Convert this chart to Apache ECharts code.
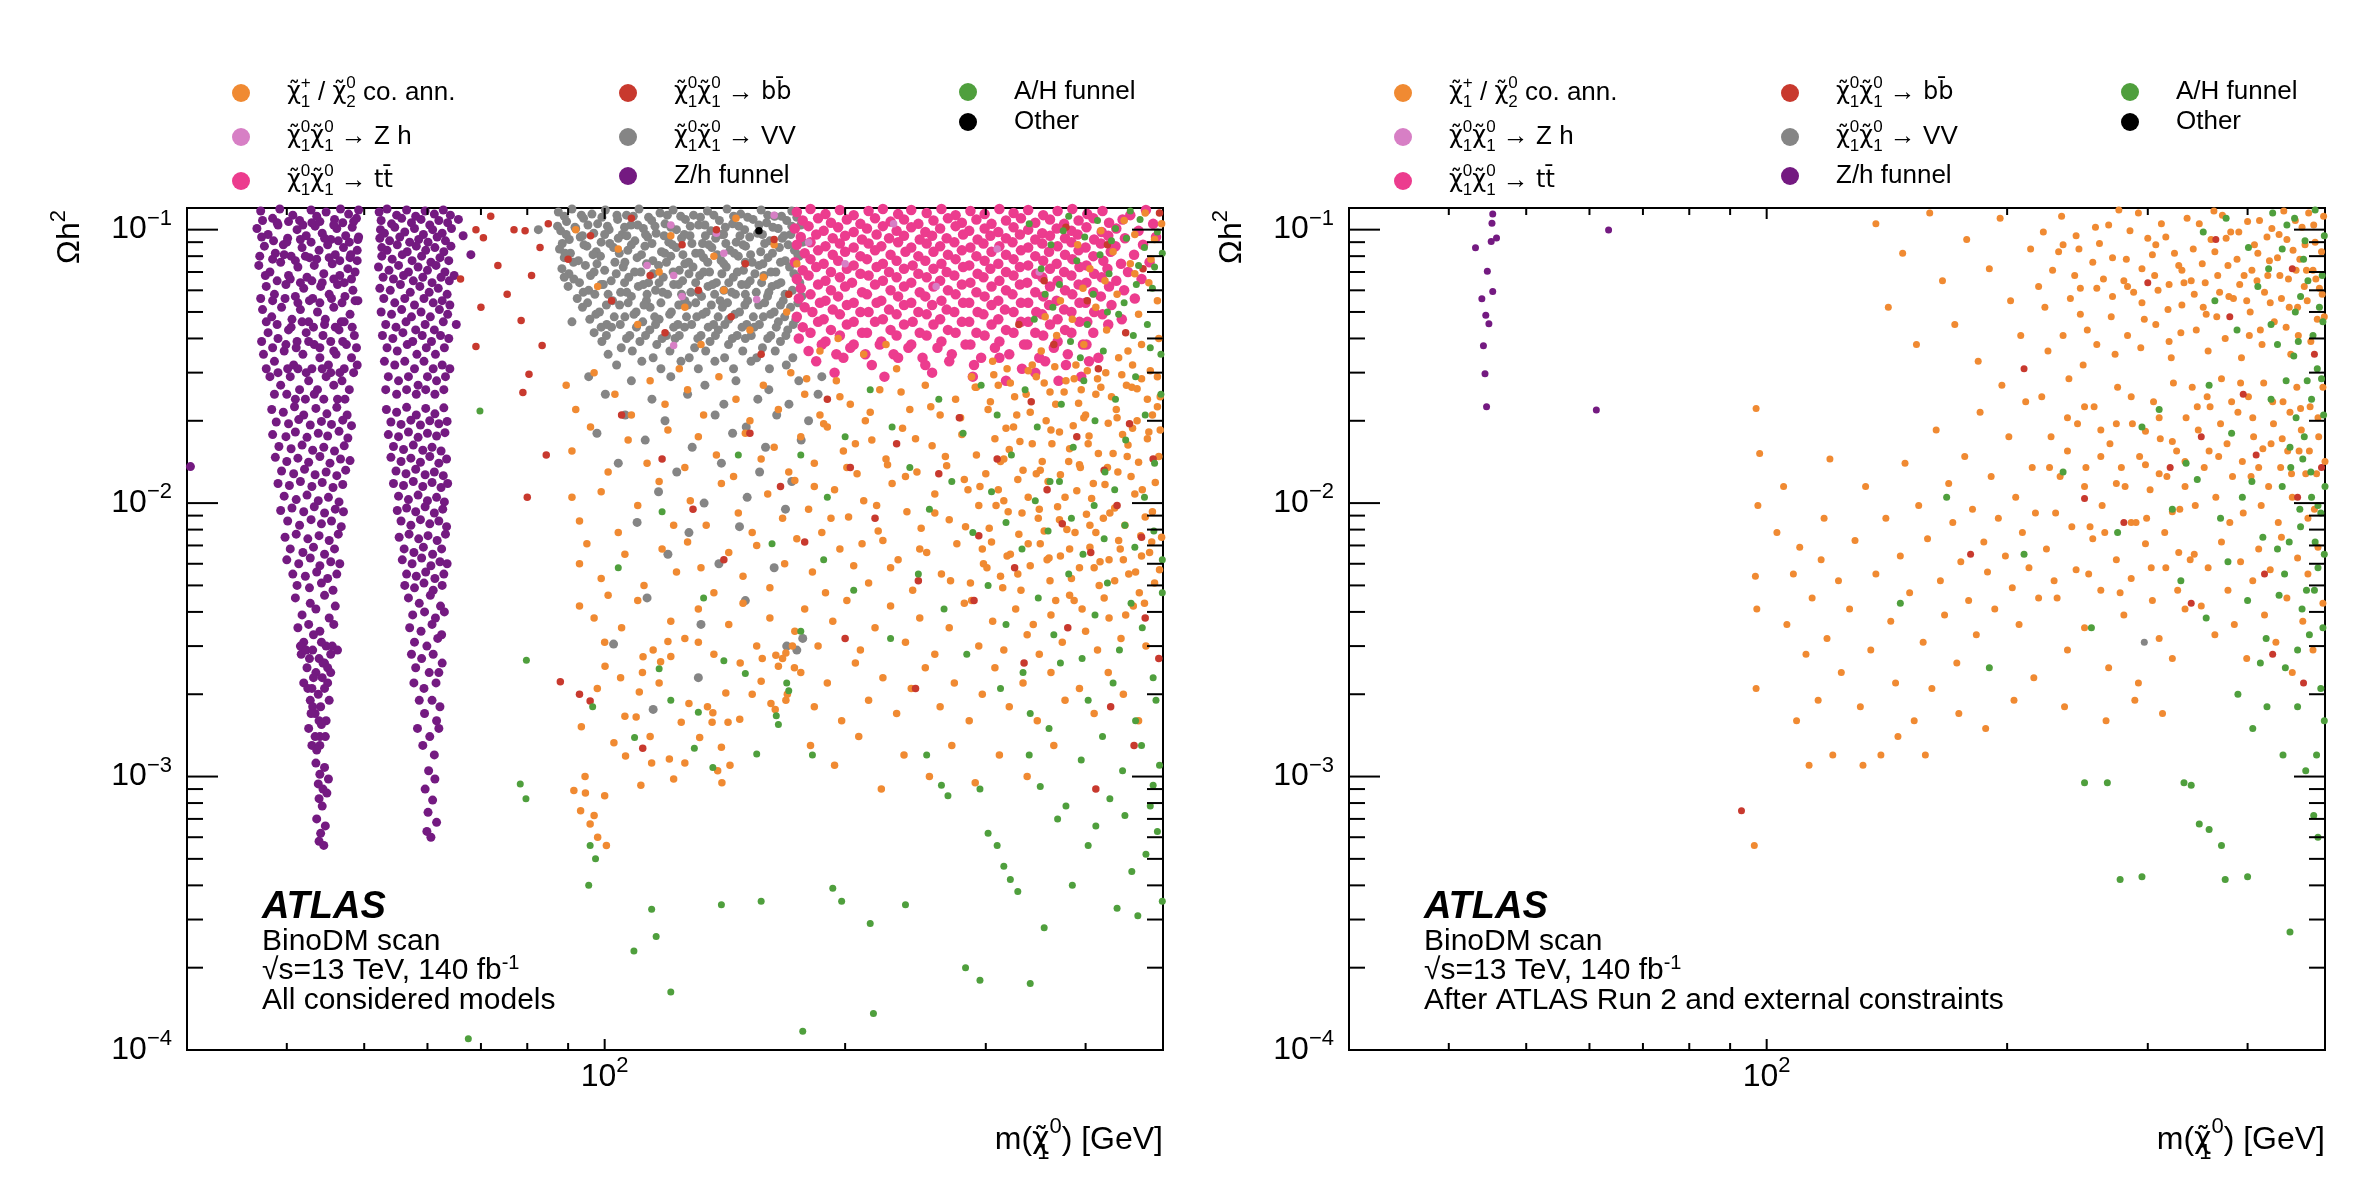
<!DOCTYPE html>
<html>
<head>
<meta charset="utf-8">
<script src="https://cdn.jsdelivr.net/npm/echarts@6/dist/echarts.min.js"></script>
<style>
  html, body { margin: 0; padding: 0; background: #fff; }
  #chart { width: 2372px; height: 1184px; }
</style>
</head>
<body>
<div id="chart"></div>
<script>
// points are "mass:omega" pairs, m(chi10) in GeV, omega = relic density Oh^2

// ---- left panel: all considered models ----
const leftFunnelZh = `
37.1:.117 38.4:.110 39.2:.119 40.7:.113 41.5:.108 42.9:.118 43.6:.112 44.8:.116 45.9:.109 46.7:.119 47.8:.114 48.9:.110 49.2:.118
36.7:.101 37.9:.096 39.0:.104 40.1:.093 41.2:.100 42.3:.095 43.4:.103 44.3:.097 45.4:.092 46.2:.101 47.4:.095 48.3:.102 49.2:.094
37.5:.087 38.7:.082 39.6:.088 40.5:.080 41.8:.086 42.7:.079 43.9:.084 45.0:.088 46.0:.081 47.1:.086 48.0:.079 49.0:.084
36.9:.074 38.1:.070 39.3:.076 40.2:.068 41.3:.073 42.4:.067 43.3:.074 44.5:.069 45.6:.075 46.6:.068 47.7:.072 48.7:.070
37.7:.062 38.6:.058 39.9:.063 41.0:.057 42.0:.061 43.1:.056 44.1:.062 45.2:.058 46.3:.063 47.3:.057 48.4:.060 49.1:.055
37.3:.051 38.3:.048 39.4:.052 40.6:.047 41.6:.051 42.6:.046 43.7:.050 44.7:.047 45.8:.052 46.8:.046 48.0:.049
37.9:.042 39.0:.040 40.2:.043 41.2:.039 42.3:.042 43.3:.038 44.4:.041 45.4:.039 46.5:.043 47.5:.038 48.6:.041
37.4:.035 38.6:.033 39.7:.036 40.8:.032 41.9:.035 43.0:.031 44.0:.034 45.1:.032 46.1:.035 47.2:.031 48.2:.034 49.0:.032
38.1:.029 39.3:.027 40.4:.029 41.5:.026 42.6:.028 43.7:.026 44.8:.029 45.8:.027 46.9:.028 47.9:.026
37.3:.108 38.9:.106 40.2:.107 41.9:.104 43.0:.106 44.0:.107 45.8:.104 47.0:.106 48.5:.107
37.2:.094 38.5:.091 40.0:.090 41.6:.092 42.9:.090 44.6:.093 46.4:.091 47.9:.090 49.1:.092
37.0:.080 38.4:.078 39.7:.081 41.0:.077 42.2:.080 43.6:.078 45.2:.079 46.6:.077 48.1:.081 49.0:.077
37.6:.068 38.9:.065 40.4:.066 41.6:.064 43.0:.065 44.3:.064 45.8:.066 47.2:.064 48.2:.066
37.1:.056 38.4:.055 39.8:.056 41.3:.054 42.7:.055 44.0:.054 45.5:.056 46.9:.054 48.7:.055
37.7:.046 38.9:.045 40.5:.044 41.8:.046 43.2:.044 44.6:.045 46.0:.044 47.2:.046 48.3:.044
37.2:.039 38.4:.037 39.9:.038 41.1:.037 42.6:.039 44.0:.037 45.8:.036 47.0:.039 48.9:.037
37.7:.031 39.0:.030 40.1:.031 41.3:.031 42.3:.030 44.3:.031 45.4:.030 46.6:.030 48.5:.030
38.6:.025 40.0:.025 41.0:.024 42.2:.024 43.3:.025 44.5:.024 46.3:.024 47.3:.024
38.3:.022 39.6:.0215 40.9:.0225 42.0:.021 43.5:.0222 44.9:.0212 46.2:.0224 47.6:.021
38.8:.0198 40.2:.0195 41.4:.0202 42.8:.0193 44.2:.0199 45.5:.0194 47.0:.0201 48.2:.0192
38.4:.0178 39.9:.0175 41.0:.0182 42.4:.0174 43.8:.018 45.0:.0176 46.5:.0183 47.7:.0173
39.1:.0161 40.5:.0158 41.8:.0163 43.1:.0156 44.5:.016 45.9:.0155 47.2:.0162
38.7:.0147 40.0:.0142 41.3:.0146 42.6:.0141 44.0:.0148 45.3:.014 46.7:.0145 48.0:.0143
39.4:.0131 40.8:.0128 42.1:.0133 43.4:.0127 44.8:.013 46.2:.0126 47.4:.0132
39.0:.0118 40.3:.0116 41.6:.012 43.0:.0115 44.3:.0119 45.7:.0114 47.0:.0117
39.7:.0106 41.1:.0103 42.4:.0107 43.8:.0102 45.1:.0105 46.5:.0101
39.3:.0094 40.6:.0096 42.0:.0093 43.3:.0097 44.6:.0092 46.0:.0095 47.1:.0093
40.1:.0086 41.5:.0083 42.9:.0087 44.2:.0084 45.5:.0086 46.8:.0082
39.8:.0075 41.1:.0077 42.5:.0074 43.9:.0076 45.2:.0073 46.4:.0077
40.4:.0068 41.9:.0066 43.2:.0069 44.6:.0065 45.9:.0068
40.0:.0062 41.4:.006 42.8:.0063 44.0:.0059 45.4:.0061 46.6:.006
40.7:.0055 42.2:.0054 43.6:.0056 45.0:.0053 46.2:.0055
41.2:.005 42.7:.0049 44.2:.0051 45.7:.0048
41.0:.0045 42.8:.0043 44.6:.0046 46.0:.0042 41.8:.0039 43.5:.0041 45.2:.0038
41.3:.0035 42.6:.0036 44.0:.0034 45.8:.0036 42.0:.0031 43.2:.0033 44.8:.003
41.7:.0028 43.9:.0027 45.4:.0028 42.4:.0025 43.5:.0024 44.4:.0026
42.0:.0022 43.0:.0021 45.0:.0022 42.8:.0019 44.1:.0018 43.4:.0017 44.8:.0016
42.6:.0015 44.0:.0014 43.0:.0013
41.6:.0030 42.3:.0029 43.1:.0029 44.2:.0031 45.6:.0030 46.3:.0029 42.7:.0027 44.6:.0026 45.0:.0025
43.2:.0023 44.3:.0023 45.4:.0024 42.5:.0021 43.8:.0020 44.6:.0021 43.1:.0018 45.2:.0019 42.9:.0017
43.9:.0016 44.2:.00155 43.4:.0014 44.7:.0014 44.0:.0013 43.6:.00125
43.5:.00112 44.6:.00108 44.0:.00102 45.1:.00098 43.8:.00094 44.4:.0009 44.9:.00087 43.9:.00083
44.3:.00078 43.6:.0007 44.7:.00066 44.1:.00062 43.9:.00058 44.5:.00056
52.2:.116 53.4:.119 54.9:.113 56.5:.118 58.0:.112 59.6:.117 61.2:.114 62.8:.118 64.1:.113
52.5:.108 54.1:.105 55.7:.11 57.3:.106 58.9:.109 60.4:.104 62.0:.108 63.6:.106
52.4:.1 53.0:.097 54.6:.102 56.2:.098 57.8:.101 59.3:.096 60.9:.1 62.6:.097 64.3:.101
52.3:.093 53.8:.091 55.4:.094 57.0:.09 58.5:.092 60.1:.09 61.7:.094 63.2:.091
52.6:.086 53.4:.084 55.0:.088 56.6:.083 58.1:.087 59.7:.084 61.3:.086 62.9:.083 64.2:.087
52.6:.08 54.2:.078 55.8:.081 57.4:.077 59.0:.08 60.6:.076 62.2:.079 63.8:.077
52.1:.073 53.7:.071 55.2:.074 56.8:.07 58.4:.073 60.0:.071 61.5:.074 63.1:.07
52.8:.067 54.4:.066 56.0:.068 57.6:.065 59.2:.067 60.8:.064 62.4:.067 63.9:.065
52.3:.061 53.9:.06 55.5:.063 57.1:.059 58.7:.062 60.3:.059 61.9:.061 63.5:.058
52.9:.056 54.6:.054 56.2:.056 57.8:.053 59.4:.056 61.0:.054 62.6:.055 64.0:.053
52.5:.05 54.1:.049 55.7:.051 57.3:.048 58.9:.05 60.5:.048 62.1:.051 63.6:.049
53.2:.045 54.8:.044 56.4:.046 58.0:.043 59.6:.045 61.2:.043 62.8:.046
52.7:.041 54.3:.04 55.9:.042 57.5:.039 59.1:.041 60.7:.039 62.3:.041 63.8:.04
53.4:.037 55.0:.036 56.6:.038 58.2:.035 59.8:.037 61.4:.035 63.0:.037
53.0:.033 54.6:.032 56.2:.033 57.8:.031 59.4:.033 61.0:.031 62.6:.032 64.0:.031
53.6:.029 55.2:.028 56.8:.029 58.4:.027 60.0:.029 61.6:.028 63.2:.029
53.2:.026 54.9:.025 56.5:.026 58.1:.025 59.7:.026 61.3:.025 62.9:.026
53.3:.022 54.9:.0215 56.5:.0224 58.1:.021 59.7:.0222 61.3:.0212 62.9:.0223
54.0:.0198 55.6:.0194 57.2:.0201 58.8:.0193 60.4:.02 62.0:.0195 63.5:.0199
53.6:.0178 55.2:.0175 56.8:.0182 58.4:.0174 60.0:.018 61.6:.0176 63.1:.0181
54.4:.0161 56.0:.0157 57.6:.0163 59.2:.0156 60.8:.016 62.4:.0155
54.0:.0147 55.6:.0142 57.2:.0146 58.8:.0141 60.4:.0148 62.0:.014 63.4:.0145
54.8:.0131 56.4:.0128 58.0:.0133 59.6:.0127 61.2:.013 62.8:.0126
54.4:.0118 56.0:.0116 57.6:.012 59.2:.0115 60.8:.0119 62.4:.0114 63.6:.0118
55.2:.0106 56.8:.0103 58.4:.0107 60.0:.0102 61.6:.0105 63.0:.0101
55.0:.0094 56.5:.0096 58.0:.0093 59.6:.0097 61.2:.0092 62.7:.0095
55.6:.0086 57.2:.0083 58.8:.0087 60.4:.0084 62.0:.0086 63.4:.0082
55.3:.0075 56.9:.0077 58.5:.0074 60.1:.0076 61.7:.0073 63.2:.0077
56.1:.0068 57.7:.0066 59.3:.0069 60.9:.0065 62.5:.0068
55.8:.0062 57.4:.006 59.0:.0063 60.6:.0059 62.2:.0061 63.5:.006
56.5:.0055 58.1:.0054 59.7:.0056 61.3:.0053 62.9:.0055
56.2:.005 57.8:.0049 59.4:.0051 61.0:.0048 62.6:.005
56.8:.0045 58.6:.0043 60.5:.0046 62.3:.0042 57.5:.0039 59.5:.004 61.4:.0038 63.0:.004
57.0:.0035 58.9:.0034 60.8:.0036 62.5:.0033 57.8:.0031 59.9:.003 61.8:.0032
57.3:.0028 59.0:.0027 61.0:.0028 62.6:.0026 58.0:.0025 60.3:.0024 62.0:.0024
57.7:.0022 59.4:.0021 61.5:.0022 58.6:.0019 60.8:.0019 62.2:.0018 59.5:.0017 61.6:.0016
58.3:.0015 60.4:.0014 62.0:.0015 59.2:.0013 61.2:.0012
60.2:.00105 61.3:.00098 59.6:.0009 60.9:.00082 60.1:.00074 61.6:.00068 59.9:.00063 60.6:.0006
30.3:.0136 65.6:.109 68.0:.081 64.8:.068 65.2:.045 66.5:.095`;

const leftVV = `
87.5:.116 91.0:.119 96.4:.114 100.2:.118 106.5:.113 110.4:.119 117.3:.115 121.8:.118 129.2:.113 134.5:.117 142.3:.119 148.0:.114 157.0:.118 163.2:.112 171.5:.117
89.6:.107 94.1:.11 98.0:.105 103.8:.109 107.9:.104 114.5:.108 119.0:.105 126.2:.109 131.1:.104 139.2:.108 144.6:.105 153.4:.109 159.5:.106 169.0:.108 176.0:.104
88.1:.099 92.0:.101 96.9:.097 101.3:.1 105.2:.096 111.8:.101 116.0:.097 123.0:.1 127.9:.095 135.8:.099 140.9:.096 149.7:.1 155.4:.097 164.9:.101 171.0:.096
90.3:.092 93.2:.094 99.0:.09 104.0:.093 109.1:.091 113.2:.094 120.3:.09 124.8:.093 132.6:.089 137.7:.093 146.1:.09 151.9:.094 161.0:.091 166.8:.093 177.0:.09
87.8:.085 95.0:.087 97.6:.083 102.6:.086 106.9:.084 112.3:.087 117.8:.083 122.9:.086 130.0:.082 136.2:.086 143.5:.084 150.1:.087 156.8:.083 165.5:.086 172.8:.084
89.0:.079 92.7:.077 98.8:.08 103.0:.076 109.8:.079 114.9:.077 121.0:.08 127.4:.076 133.0:.079 139.9:.077 147.0:.08 153.0:.076 160.1:.079 168.3:.077 175.2:.08
88.4:.072 94.6:.074 100.0:.071 105.5:.073 111.0:.07 116.8:.074 124.0:.071 129.0:.073 135.3:.07 142.0:.073 149.2:.071 156.0:.074 163.8:.07 170.4:.073
91.5:.066 96.0:.068 101.9:.065 107.2:.067 113.5:.064 118.4:.067 125.2:.065 131.5:.068 138.0:.064 144.9:.067 152.1:.065 158.3:.068 166.2:.064 174.1:.067
90.0:.062 95.5:.06 99.6:.063 104.7:.059 110.2:.062 115.8:.06 122.0:.063 128.2:.059 134.7:.062 141.0:.06 148.4:.063 154.8:.059 162.0:.062 171.8:.06
92.4:.056 97.2:.058 102.3:.055 108.0:.057 112.8:.055 119.9:.058 126.0:.055 132.2:.057 139.5:.055 145.8:.058 151.0:.055 159.9:.057 167.3:.055 176.5:.057
93.8:.052 98.5:.05 104.4:.053 109.5:.05 114.0:.052 121.2:.05 127.0:.053 134.0:.05 140.4:.052 147.5:.05 155.9:.053 163.0:.05 170.9:.052
95.8:.047 100.6:.045 106.0:.048 111.6:.046 117.0:.047 123.5:.045 130.4:.048 136.9:.045 143.0:.047 150.6:.045 158.0:.048 165.0:.046 173.5:.047
97.0:.042 102.0:.044 107.5:.041 113.9:.043 119.5:.041 125.9:.044 132.0:.041 138.8:.043 146.5:.041 153.9:.044 161.4:.041 169.5:.043
99.2:.039 104.9:.037 110.7:.039 116.2:.038 122.5:.04 129.6:.037 135.5:.039 142.9:.038 150.0:.04 157.6:.037 166.0:.039
101.0:.035 108.3:.036 115.0:.034 120.7:.036 127.6:.034 133.8:.036 141.3:.034 148.9:.036 155.0:.034 163.5:.036 172.0:.034
103.5:.032 111.3:.033 117.6:.031 124.6:.033 131.0:.031 137.4:.033 145.0:.031 152.5:.033 160.8:.031 168.8:.032
89.0:.112 93.5:.113 99.2:.111 103.6:.113 108.6:.112 113.5:.111 119.8:.113 124.5:.112 131.8:.111 137.0:.113 145.0:.112 151.0:.111 160.0:.113 166.5:.112 174.0:.111
87.3:.103 91.8:.102 95.3:.104 100.8:.103 105.9:.102 110.0:.104 115.6:.103 121.0:.102 128.0:.103 133.5:.104 141.6:.102 147.2:.103 156.0:.104 162.4:.102 171.5:.103
89.5:.096 93.8:.095 100.0:.096 106.6:.095 112.5:.096 118.7:.095 125.8:.096 133.7:.095 140.0:.096 147.7:.095 157.6:.096 167.8:.095
88.5:.089 94.2:.088 101.5:.089 108.0:.088 114.6:.089 121.6:.088 128.6:.089 135.0:.088 141.8:.089 149.0:.088 158.6:.089 169.7:.088
90.6:.082 96.7:.081 104.3:.082 111.2:.081 118.9:.082 125.3:.081 131.8:.082 138.3:.081 145.3:.082 152.3:.081 162.2:.082 174.5:.081
91.4:.076 97.8:.075 106.0:.076 112.8:.075 119.5:.076 126.0:.075 134.6:.076 141.0:.075 150.0:.076 157.8:.075 166.0:.076
90.2:.069 97.0:.07 103.4:.069 109.0:.07 115.0:.069 121.8:.07 127.5:.069 133.0:.07 140.2:.069 146.6:.07 154.2:.069 161.5:.07 172.5:.069
93.0:.064 99.0:.063 105.9:.064 111.8:.063 117.0:.064 123.7:.063 130.0:.064 136.5:.063 143.0:.064 150.6:.063 157.2:.064 164.5:.063 175.5:.064
94.0:.059 101.0:.058 106.6:.059 113.0:.058 118.2:.059 124.8:.058 131.0:.059 137.3:.058 144.2:.059 150.0:.058 160.5:.059 168.2:.058
95.2:.054 100.5:.053 107.0:.054 112.0:.053 117.6:.054 123.8:.053 130.0:.054 136.0:.053 142.5:.054 149.8:.053 158.6:.054 166.0:.053 174.5:.054
97.5:.049 102.8:.048 108.8:.049 115.5:.048 120.6:.049 126.6:.048 132.6:.049 138.7:.048 145.5:.049 153.5:.048 161.3:.049 168.0:.048
99.0:.044 104.6:.045 109.6:.044 115.8:.045 122.0:.044 128.5:.045 134.8:.044 141.4:.045 148.6:.044 156.2:.045 164.0:.044 172.2:.045
100.5:.041 106.5:.04 112.5:.041 118.0:.04 124.0:.041 130.8:.04 137.6:.041 144.5:.04 152.6:.041 160.0:.04 168.6:.041
82.6:.1 89.0:.067 91.0:.046 89.2:.082
95.5:.029 108.0:.028 121.0:.029 133.5:.027 146.0:.028 160.5:.026 175.0:.028 187.0:.029
100.2:.025 114.6:.024 127.0:.025 141.0:.023 155.5:.024 170.1:.023 185.0:.025
106.1:.021 119.0:.02 137.5:.021 150.4:.019 164.2:.021 180.0:.02
97.8:.018 112.4:.017 128.7:.016 144.6:.018 159.0:.016 176.2:.017
104.0:.014 123.1:.013 140.0:.014 156.3:.013 171.5:.012
116.8:.011 133.2:.01 150.8:.0105 168.4:.0095 109.8:.0085 127.5:.0078 147.5:.0082
120.0:.0065 139.0:.006 163.0:.0058 113.0:.0045 150.0:.0044 132.0:.0036 177.0:.0032 174.0:.0029
102.6:.00305 131.0:.0023 115.0:.00176 169.0:.003`;

const leftTT = `
174:.116 181:.119 189:.114 197:.118 205:.113 214:.117 223:.119 233:.114 242:.118 253:.115 264:.119 275:.113 287:.117 299:.114 312:.119 325:.115 339:.118 354:.113 369:.117 385:.119 402:.114 420:.117 455:.113 476:.118
177:.108 185:.11 192:.106 201:.109 209:.105 218:.11 228:.107 237:.109 247:.105 258:.108 269:.11 280:.106 292:.109 305:.105 318:.108 332:.11 346:.106 361:.109 376:.105 392:.108 409:.11 428:.106 445:.109 486:.105
173:.101 180:.103 188:.099 196:.102 205:.098 213:.101 223:.103 232:.099 242:.102 252:.098 263:.101 275:.103 286:.099 299:.101 311:.098 325:.102 339:.1 353:.097 368:.101 384:.099 401:.102 419:.098 437:.101 466:.099
176:.094 184:.096 193:.093 200:.095 210:.092 219:.096 227:.093 237:.095 248:.092 257:.095 268:.093 281:.096 293:.092 304:.095 318:.093 331:.096 346:.092 361:.095 377:.093 391:.096 410:.092 427:.095 448:.093 490:.094
174:.088 181:.09 189:.087 197:.089 205:.086 214:.089 222:.087 233:.09 242:.086 253:.089 263:.087 274:.09 287:.086 298:.089 312:.087 324:.09 339:.086 353:.089 369:.087 384:.09 400:.086 418:.089 436:.087 472:.088
178:.082 185:.084 193:.081 200:.083 209:.08 218:.084 228:.081 238:.083 247:.08 258:.083 269:.081 280:.084 292:.08 305:.083 318:.081 332:.084 346:.08 360:.083 377:.081 392:.084 409:.08 430:.083 460:.081
173:.076 181:.078 188:.075 196:.077 205:.074 213:.078 223:.075 232:.077 243:.074 252:.077 264:.075 275:.078 286:.074 299:.077 311:.075 325:.078 339:.074 354:.077 368:.075 385:.078 401:.074 421:.077 443:.075 481:.076
177:.071 184:.073 192:.07 201:.072 209:.069 219:.073 227:.07 237:.072 247:.069 258:.072 268:.07 281:.073 293:.069 304:.072 318:.07 331:.073 347:.069 361:.072 376:.07 393:.073 410:.069 426:.072 452:.07
174:.066 180:.068 189:.065 197:.067 204:.064 214:.068 223:.065 232:.067 242:.064 253:.067 263:.065 274:.068 287:.064 298:.067 312:.065 325:.068 338:.064 353:.067 369:.065 384:.068 401:.064 419:.067 437:.065 470:.066
176:.061 185:.063 192:.06 200:.062 210:.059 218:.063 228:.06 237:.062 248:.059 258:.062 269:.06 280:.063 292:.059 305:.062 318:.06 331:.063 346:.059 361:.062 377:.06 392:.063 409:.059 428:.062 447:.06
175:.056 181:.058 189:.055 196:.057 205:.054 213:.058 222:.055 233:.057 242:.054 252:.057 264:.055 275:.058 286:.054 299:.057 311:.055 324:.058 339:.054 354:.057 368:.055 385:.058 400:.054 418:.057 461:.056
178:.052 186:.054 193:.051 201:.053 209:.05 219:.054 227:.051 237:.053 247:.05 257:.053 268:.051 281:.054 293:.05 305:.053 317:.051 332:.054 347:.05 360:.053 376:.051 393:.054 410:.05 431:.053
174:.048 182:.05 188:.047 197:.049 205:.046 214:.05 223:.047 232:.049 243:.046 253:.049 263:.047 274:.05 286:.046 298:.049 311:.047 325:.05 339:.046 353:.049 369:.047 384:.05 402:.046 420:.049 444:.047
177:.044 185:.046 192:.043 201:.045 210:.042 218:.046 228:.043 237:.045 248:.042 258:.045 269:.043 280:.046 292:.042 305:.045 318:.043 332:.046 346:.042 361:.045 377:.043 393:.046 409:.042 427:.045
175:.04 181:.042 189:.039 197:.041 205:.038 213:.042 222:.039 232:.041 242:.038 253:.041 264:.039 275:.042 287:.038 299:.041 312:.039 325:.042 338:.038 354:.041 369:.039 384:.042 401:.038
180:.036 187:.038 195:.035 203:.037 212:.035 221:.038 230:.035 240:.037 250:.034 261:.037 272:.035 283:.038 296:.034 308:.037 321:.035 335:.038 350:.034 365:.037 380:.035 397:.038 415:.034
184:.033 199:.034 216:.032 233:.034 252:.032 270:.033 290:.032 312:.034 333:.031 356:.033 378:.032 404:.033
194:.030 224:.029 257:.030 289:.029 318:.028 346:.03 370:.028 395:.029`;

const leftCoann = `
100.1:.00253 97.9:.0021 93.5:.00152 94.5:.001 91.5:.00089 94.6:.00087 100:.00085 104.7:.0023 106:.00166 106.2:.00119
102.7:.00133 111.7:.00274 111.5:.0024 110.5:.00204 117:.0022 117.5:.00263 121:.00275 109.5:.00165 114:.0014 111:.00093
114.5:.00112 120.5:.00116 122:.00098 124.7:.00158 126:.00112 127.5:.00185 131.5:.00139 134.5:.0018 136.6:.00171 136.3:.00158
138.5:.00105 140:.00128 140.2:.00095 143.5:.0011 141.8:.00202 142.7:.00158 147.6:.00162 147.8:.0026 153:.002 157.5:.0027
157:.00223 161.5:.00185 163.5:.00176 165:.00253 168.6:.0019 169.3:.002 172.8:.0025 163.8:.00278 168.6:.00283 171.8:.003
120:.00312 131:.0031 93.3:.00075 95.9:.00067 100.5:.00056 98:.0006 97:.00072
89.5:.027 92:.022 97:.030 103:.025 108:.021 114:.028 119:.023 124:.031
127:.026 133:.021 139:.029 146:.024 152:.020 158:.027 165:.022 171:.030
178:.025 186:.021 195:.028 203:.023 212:.020 221:.026 232:.031 241:.022 252:.027 263:.021 275:.024 288:.029
302:.022 311:.027 319:.031 328:.021 337:.025 347:.029 357:.020 367:.023 378:.028 389:.032 400:.021 412:.025
424:.030 437:.022 450:.027 464:.020 478:.024 492:.029 306:.033 343:.032 395:.026 458:.032 485:.021
91:.0155 96:.019 101:.013 107:.017 113:.014 120:.0185
126:.0135 131:.0175 138:.015 145:.0125 150:.018 157:.0145 163:.016 170:.013
176:.0175 183:.014 190:.019 199:.0155 207:.0128 216:.017 225:.0145 236:.0188 246:.013 257:.0162 268:.0137 280:.0178 292:.015
300:.0128 308:.0172 316:.0145 325:.019 334:.0132 343:.0165 353:.0142 362:.0185 372:.0127 382:.0158 393:.0138
404:.0176 415:.0152 427:.0196 439:.013 452:.0163 466:.0141 480:.0182 494:.0148 321:.0157 386:.0192 445:.0178
91:.0105 93:.0086 99:.011 104:.0078 110:.0098 117:.012 122:.0083
128:.0102 134:.0083 140:.0118 147:.0092 153:.0078 160:.0108 167:.0088 173:.0121
180:.0095 187:.0078 194:.0112 202:.0089 211:.0102 220:.0079 229:.0118 239:.0093 249:.0081 259:.0108 270:.0087 282:.0122 294:.0098
303:.0081 311:.0112 320:.0093 330:.0077 339:.0105 349:.0088 359:.012 369:.0097 379:.008 390:.0111 401:.0091
412:.0078 423:.0117 435:.0096 448:.0083 461:.0108 475:.0089 489:.0119 316:.0102 355:.0079 407:.0104 469:.0076
95:.0071 99:.0053 101:.0046 93:.006 106:.0065 112:.005 118:.0068 123:.0056
127:.0072 132:.0058 137:.0047 143:.0066 149:.0054 155:.007 161:.0049 168:.006 174:.0074
182:.0056 189:.0047 197:.0068 205:.0059 214:.0051 223:.0073 233:.0062 243:.0048 253:.0066 264:.0055 276:.0071 287:.0051 298:.006
305:.0072 313:.0054 322:.0065 332:.0048 341:.0059 351:.0071 361:.0052 372:.0064 382:.0046
393:.0058 405:.0069 416:.005 428:.0062 440:.0073 453:.0055 467:.0047 481:.0066 495:.0057
93:.0042 100:.0031 105:.0035 97:.0038 110:.0044 115:.0029 121:.0037
126:.0032 131:.0041 137:.0028 143:.0036 149:.0043 155:.003 161:.0038 167:.0027 173:.0034
178:.0041 185:.003 193:.0037 201:.0044 209:.0029 218:.0035 228:.0042 238:.0031 248:.0038 259:.0028 270:.0035 282:.0043 294:.003
306:.0037 316:.0029 327:.0041 338:.0033 350:.0028 362:.0039 374:.0031 387:.0044 400:.0034 414:.0029 428:.0038 443:.0032 459:.0042 476:.003
176:.0024 183:.0018 190:.0022 198:.0016 206:.0026 214:.0019 223:.0023 232:.0017 242:.0021 252:.0025 263:.0018 274:.0022 286:.0016 297:.002
308:.0025 321:.0018 334:.0022 348:.0016 362:.0024 377:.0019 393:.0021 410:.0017 427:.0024 446:.002 466:.0016
181:.0013 194:.0011 208:.0014 222:.0009 237:.0012 255:.001 272:.0013 291:.00095 312:.0012 338:.001 365:.0013
352:.036 368:.041 385:.047 398:.038 412:.052 425:.043 438:.058 452:.036 466:.049 480:.064 494:.04 405:.072 433:.083 461:.069 488:.092
418:.099 447:.108 475:.115 397:.061 372:.055 356:.048 440:.034 470:.038 492:.055 455:.075 483:.078 423:.065 391:.088 461:.096 498:.105
92:.1 98:.062 104:.085 110:.045 117:.07 121:.095 126:.052 132:.038 137:.08 141:.06 146:.11 152:.043 158:.067 163:.088 169:.05 174:.075 186:.036 196:.04 211:.035 225:.038
179:.0285 188:.0195 197:.0245 206:.0165 215:.0215 226:.0138 235:.0255 245:.0172 256:.0225 267:.0148 279:.0205 291:.0265
183:.0115 192:.0088 201:.0135 210:.0071 219:.0098 228:.0058 238:.0125 248:.0068 259:.0092 271:.0052 283:.0082 295:.0115
304:.0235 313:.0142 322:.0275 331:.0168 341:.0215 351:.0132 361:.0255 371:.0182 381:.0142 392:.0232 403:.0165 414:.0285
426:.0135 438:.0205 451:.0148 464:.0262 478:.0172 492:.0225
309:.0098 319:.0064 329:.0122 339:.0071 350:.0095 360:.0063 371:.0087 382:.0068 394:.0135 405:.0083 417:.0061 429:.0092
442:.0068 456:.0125 470:.0064 485:.0093 498:.0075
285:.0112 297:.0068 318:.0188 333:.0092 347:.0128 363:.0165 377:.0105 388:.0078 398:.0205 409:.0118 421:.0088 433:.0152
446:.0062 458:.0188 471:.0112 484:.0072 496:.0185
288:.0044 301:.0058 315:.0049 329:.0055 344:.0036 358:.0062 367:.0044 384:.0053 396:.0041 410:.0058 422:.0045 435:.0052
449:.0039 462:.0056 474:.0043 488:.0051
292:.0265 307:.0295 326:.0245 339:.0305 355:.0275 366:.0315 376:.0255 387:.0285 402:.0305 418:.0265 431:.0245 444:.0295
457:.0265 470:.0285 482:.0305 496:.0245`;

const leftBB = `
69:.1 70.5:.0935 73.5:.074 77:.1 79.5:.099 83:.086 69:.0374 70:.052 78.6:.0465 83.5:.0377 79:.0254 80.4:.0296
66:.066 72:.112 75.5:.058 81:.068 85:.105 80:.0105 88:.00222 95.9:.00189 111.6:.00127 84.5:.015 93:.002
90:.078 96:.095 102:.055 108:.11 114:.068 119:.042 125:.088 131:.06 138:.1 144:.048 150:.075 157:.035 163:.092 170:.058
105:.021 118:.0145 129:.0095 141:.0062 152:.018 166:.0115 178:.0072 190:.024 203:.0135 218:.0088 232:.0165 247:.0052 262:.0128 278:.0205
294:.0076 310:.0145 326:.0058 342:.0235 358:.0112 374:.0084 390:.0175 406:.0066 422:.0132 438:.0098 454:.0195 470:.0075 486:.0145
330:.045 355:.065 378:.102 402:.055 426:.088 449:.042 472:.072 495:.115 365:.038 415:.031
200:.0032 245:.0021 290:.0044 335:.0026 380:.0035 430:.0018 475:.0038 494:.0027 460:.0013 412:.0009`;

const leftAH = `
340:.105 362:.088 381:.112 399:.094 417:.081 436:.101 455:.117 474:.086 492:.098 352:.072 371:.063 390:.077 409:.058 428:.069
447:.054 466:.074 485:.061 345:.047 364:.052 383:.039 402:.045 421:.036 440:.049 459:.041 478:.045 497:.035 375:.099 431:.091
488:.073 414:.108 463:.063 394:.034 450:.093 356:.058 499:.082 426:.05 468:.109 482:.037
262:.024 281:.018 296:.027 310:.021 323:.015 336:.026 348:.019 361:.012 373:.023 386:.016 398:.028 411:.02 423:.013 436:.024
449:.017 462:.029 475:.021 488:.014 497:.025
255:.0095 272:.012 289:.0078 305:.011 318:.0085 333:.0068 346:.0102 359:.0079 371:.012 384:.0088 397:.0065 410:.0098
422:.0074 435:.0112 448:.0083 461:.0069 474:.0105 487:.0079 499:.0062 229:.019 241:.0135 215:.026 200:.0175 190:.0105 176:.015
205:.0048 228:.0032 247:.0055 266:.0041 284:.0028 302:.005 318:.0036 334:.0024 349:.0045 365:.0033 381:.0055 396:.0027
411:.0039 426:.0051 441:.0029 456:.0043 471:.0035 486:.0023 499:.0047 313:.0021 341:.0017 372:.0026 403:.0019 433:.0022 462:.0016 490:.0019
79.8:.00266 78.4:.00094 79.7:.00083 96.6:.0018 117:.00248 121:.0019 109:.00139 131:.00172 129.5:.00127 136.6:.00108
141:.00265 150:.00238 169:.0022 170:.00206 164:.00167 165:.00155 155:.00121 182:.0012 69.8:.0217
104:.0058 118:.0093 133:.0045 147:.015 162:.0071 176:.0034 188:.0062
67.5:.00011 95.5:.0004 95.9:.00056 97.4:.0005 114.5:.000327 116:.00026 108.8:.00023 121:.000163 140:.00034 157:.00035
177:.000117 217:.000136 295:.00018 341:.000175 193:.00039 198:.00035 215:.00029 238:.00034 283:.0002 310:.00056
253:.0012 264:.00093 269:.00085 295:.0009 302:.00062 316:.00047 322:.00042 329:.00038 351:.00092 369:.0007 385:.0004
403:.00056 429:.00083 438:.00033 457:.00045 476:.00052 486:.00093 492:.00063 340:.0012 360:.0015 395:.00115 420:.0014
445:.00105 470:.0013 495:.0011 378:.00078 412:.00066 448:.00072 482:.00078 355:.00028 465:.00031 499:.00035`;

const leftZh = `
113:.074 122:.068 121:.104 125:.057 138:.097 141:.082 155:.0555 163:.113 122:.0377 180:.09 200:.075 230:.105 260:.062 310:.085 350:.07`;

const leftOther = `156:.099`;

// ---- right panel: after ATLAS Run 2 and external constraints ----
const rightCoann = `
97:.0222 98:.0152 97.5:.0098 96.8:.0054 97.2:.0041 97:.0021 96.5:.00056
103:.0078 105:.0115 108:.0055 106:.0036 110:.0069 112:.0028 114:.0045 116:.0019 118:.0088 119:.0032 121:.0012
123:.0052 124:.0024 113:.0011 109:.0016 120:.0145 117:.0062
127:.0041 129:.0073 131:.0018 133:.0115 135:.0029 137:.0055 139:.0012 141:.0088 143:.0037 145:.0022 147:.0064 149:.014
151:.0047 153:.0016 155:.0098 157:.0031 159:.0074 161:.0021 163:.0185 165:.0052 167:.0039 169:.0118 171:.0085 173:.0026
175:.0061 177:.0148 179:.0044 181:.0095 183:.0033 185:.0215 187:.0072 189:.0056 191:.0125 193:.0041 195:.0088 197:.027
199:.0064 201:.0175 203:.0049 205:.0105 207:.0036 209:.0078 211:.0235 213:.0058 215:.0135 217:.0092 219:.0045
137:.105 142:.052 148:.082 154:.038 160:.115 166:.065 172:.045 178:.092 184:.033 190:.072 196:.11 202:.055 208:.041 214:.085 219:.062
132:.0011 146:.0014 158:.0012 174:.0017 188:.0015 204:.0019 216:.0023
222:.098 228:.071 234:.112 240:.056 246:.085 252:.043 258:.102 264:.066 270:.048 276:.118 282:.078 288:.059 294:.037 300:.093
306:.068 312:.105 318:.051 324:.082 330:.042 336:.11 225:.036 249:.032 273:.035 297:.047 321:.034 261:.089 285:.099 309:.06 333:.064 243:.068
221:.0245 227:.0175 233:.0125 239:.0285 245:.0195 251:.0135 257:.0225 263:.0098 269:.0165 275:.0265 281:.0115 287:.0195
293:.0148 299:.0088 305:.0235 311:.0172 317:.0125 323:.0275 329:.0095 335:.0205 230:.0092 254:.0082 278:.0135 302:.0112 326:.0155
224:.0068 231:.0045 238:.0029 244:.0057 250:.0035 256:.0074 262:.0048 268:.0025 274:.0062 280:.0039 286:.0053 292:.0022
298:.0071 304:.0044 310:.0032 316:.0058 322:.0027 328:.0066 334:.0041 236:.0018 266:.0016 289:.0019 313:.0017
223:.052 235:.088 247:.049 259:.061 271:.079 283:.041 295:.072 307:.088 319:.063 331:.053 226:.0135 238:.0205 250:.0115
262:.0148 274:.0195 286:.0085 298:.0183 310:.0128 322:.0093 334:.0142 229:.0052 241:.0082 253:.0055 265:.0078 277:.0047
290:.0085 303:.0058 315:.0078 327:.0048 339:.0062
342:.085 348:.105 354:.064 360:.092 366:.048 372:.113 378:.074 384:.056 390:.098 396:.068 402:.041 408:.088 414:.108 420:.059
426:.077 432:.046 438:.096 444:.117 450:.066 456:.084 462:.052 468:.102 474:.071 480:.039 486:.09 492:.061 498:.112 345:.043
357:.036 369:.059 381:.098 393:.034 405:.071 417:.038 429:.101 441:.056 453:.035 465:.078 477:.115 489:.047 351:.075 375:.04
399:.055 423:.094 447:.044 471:.062 495:.083 363:.117 411:.065 459:.108 483:.071
341:.0265 347:.0185 353:.0135 359:.0225 365:.0105 371:.0285 377:.0165 383:.0125 389:.0215 395:.0092 401:.0245 407:.0175
413:.0135 419:.0275 425:.0115 431:.0195 437:.0085 443:.0235 449:.0155 455:.0105 461:.0265 467:.0185 473:.0128 479:.0225
485:.0095 491:.0175 497:.0265 344:.0098 368:.0148 392:.0275 416:.0098 440:.0135 464:.0155 488:.0128 356:.0245 380:.0085
404:.0125 428:.0165 452:.0215 476:.0088 500:.0142
343:.0065 350:.0042 357:.0058 364:.0033 371:.0072 378:.0048 385:.0036 392:.0061 399:.0027 406:.0052 413:.0068 420:.0039
427:.0057 434:.0031 441:.0075 448:.0045 455:.0024 462:.0063 469:.0037 476:.0055 483:.0029 490:.0069 497:.0043
232:.083 244:.095 256:.076 268:.104 280:.065 292:.115 304:.081 316:.094 328:.074 340:.065 352:.052 364:.083 376:.093
388:.078 400:.107 412:.082 424:.068 436:.079 448:.092 460:.071 472:.088 484:.104 496:.058
235:.041 247:.061 259:.038 271:.057 283:.062 295:.054 307:.045 319:.039 331:.071 343:.058 355:.049 367:.068 379:.057
391:.063 403:.05 415:.043 427:.054 439:.068 451:.052 463:.041 475:.055 487:.066 499:.048
238:.0155 250:.0225 262:.0185 274:.0118 286:.0245 298:.0138 310:.0205 322:.0168 334:.0115 346:.0225 358:.0155 370:.0195
382:.0235 394:.0142 406:.0205 418:.0158 430:.0235 442:.0172 454:.0128 466:.0222 478:.0155 490:.0205`;

const rightAH = `
352:.098 376:.11 401:.086 425:.072 448:.104 472:.091 496:.068 364:.055 388:.043 412:.062 436:.038 459:.05 483:.041 499:.095 430:.115 470:.078
310:.022 335:.014 358:.027 382:.018 405:.012 428:.024 452:.016 475:.028 498:.021 322:.0095 346:.0122 370:.0088 394:.0105
418:.0075 442:.0115 466:.0082 490:.0098 480:.013 500:.0115 460:.0205
330:.0052 355:.0038 378:.0061 400:.0044 422:.0032 445:.0055 468:.0041 490:.0058 497:.0035 485:.0048 462:.0029 438:.0046 415:.0026
340:.00093 333:.00095 358:.00064 371:.00056 375:.00042 348:.00067 400:.00043 452:.00027 473:.00105 484:.00072 490:.0006
443:.0012 406:.0015 423:.0018 389:.002 462:.0018 250:.00095 267:.00095 277:.00042 295:.00043
147:.0043 168:.0105 190:.0025 210:.0065 235:.013 255:.0035 275:.0078 295:.019
478:.0033 494:.0021 486:.0072 469:.0145 495:.0285 457:.0345 446:.0025 499:.0016 488:.0012 465:.0095
442:.085 458:.11 476:.065 492:.052 447:.028 463:.039 481:.024 497:.046 453:.0135 471:.0175 489:.031 499:.0065
436:.0068 481:.0105 494:.0092 466:.057 486:.118 428:.045 451:.0072 474:.0048`;

const rightBB = `
93:.00075 250:.0104 280:.0085 340:.0043 420:.0055 462:.0105 300:.064 365:.092 395:.025 455:.072 485:.035 430:.0028
470:.0022 210:.031 180:.0065 320:.0135 380:.048 495:.0135 410:.015 350:.0175`;

const rightFunnelZh = `
45.4:.114 45.3:.1055 45.9:.0932 45.2:.0905 43.2:.0859 44.7:.0705 45.4:.0594 44.0:.0559 44.5:.0486 44.9:.0453
44.2:.0376 44.4:.0297 44.6:.0225 63.4:.0998 61.2:.0219`;

const rightVV = `297:.0031`;

// ---- axes ----
const X_MIN = 30, X_MAX = 500, Y_MIN = 1e-4, Y_MAX = 0.12;
const xMinorTicks = [40, 50, 60, 70, 80, 90, 200, 300, 400];
const xMajorTicks = [100];
const yMajorTicks = [1e-4, 1e-3, 1e-2, 1e-1];
const yMinorTicks = [2e-4, 3e-4, 4e-4, 5e-4, 6e-4, 7e-4, 8e-4, 9e-4,
                     2e-3, 3e-3, 4e-3, 5e-3, 6e-3, 7e-3, 8e-3, 9e-3,
                     2e-2, 3e-2, 4e-2, 5e-2, 6e-2, 7e-2, 8e-2, 9e-2];

const F = '"Liberation Sans", Arial, Helvetica, sans-serif';
const FG = '"DejaVu Sans", sans-serif';   // has chi and the combining tilde in one face
const CHI = 'χ\u0303';
const COLORS = {
  coann: '#f08a32', zh: '#d77fc5', tt: '#ec3c8e', bb: '#c8392e',
  vv: '#858585', zfun: '#741a81', ahfun: '#4f9f3d', other: '#000000'
};
const LEGEND_TEXT = {
  coann: `{g| }{x|${CHI}}{b|1}{p|+}{t| / }{x|${CHI}}{b|2}{p|0}{t| co. ann.}`,
  zh: `{g| }{x|${CHI}}{b|1}{p|0}{x|${CHI}}{b|1}{p|0}{t| → Z h}`,
  tt: `{g| }{x|${CHI}}{b|1}{p|0}{x|${CHI}}{b|1}{p|0}{t| → }{x|tt\u0304}`,
  bb: `{g| }{x|${CHI}}{b|1}{p|0}{x|${CHI}}{b|1}{p|0}{t| → }{x|bb\u0304}`,
  vv: `{g| }{x|${CHI}}{b|1}{p|0}{x|${CHI}}{b|1}{p|0}{t| → VV}`,
  zfun: '{g| }{t|Z/h funnel}',
  ahfun: '{g| }{t|A/H funnel}',
  other: '{g| }{t|Other}'
};

function parsePts(s) {
  return s.trim().split(/\s+/).map(tok => tok.split(':').map(Number));
}

function decadeLabel(v) {
  const e = Math.log10(v);
  const r = Math.round(e);
  if (Math.abs(e - r) > 1e-6) return '';
  return '{b|10}{s|' + (r < 0 ? '−' + (-r) : r) + '}';
}

const tickRich = {
  b: { fontSize: 32, fontFamily: F, lineHeight: 44, color: '#000' },
  s: { fontSize: 22, fontFamily: F, lineHeight: 22, verticalAlign: 'top', color: '#000' }
};

function legendRich(lh) {
  return {
    g: { width: 32 },
    t: { fontSize: 26, fontFamily: F, lineHeight: lh, color: '#000' },
    x: { fontSize: 24, fontFamily: FG, lineHeight: lh, color: '#000' },
    b: { fontSize: 17, fontFamily: F, lineHeight: 18, verticalAlign: 'bottom', width: 0, color: '#000' },
    p: { fontSize: 17, fontFamily: F, lineHeight: 18, verticalAlign: 'top', color: '#000' }
  };
}

function renderXTick(params, api) {
  const v = api.value(0);
  const len = api.value(2) === 1 ? 11 : 7;
  const b = api.coord([v, Y_MIN]);
  const t = api.coord([v, Y_MAX]);
  return {
    type: 'group',
    children: [
      { type: 'line', shape: { x1: b[0], y1: b[1], x2: b[0], y2: b[1] - len }, style: { stroke: '#000', lineWidth: 2 } },
      { type: 'line', shape: { x1: t[0], y1: t[1], x2: t[0], y2: t[1] + len }, style: { stroke: '#000', lineWidth: 2 } }
    ]
  };
}

function renderYTick(params, api) {
  const v = api.value(1);
  const len = api.value(2) === 1 ? 31 : 16;
  const l = api.coord([X_MIN, v]);
  const r = api.coord([X_MAX, v]);
  return {
    type: 'group',
    children: [
      { type: 'line', shape: { x1: l[0], y1: l[1], x2: l[0] + len, y2: l[1] }, style: { stroke: '#000', lineWidth: 2 } },
      { type: 'line', shape: { x1: r[0], y1: r[1], x2: r[0] - len, y2: r[1] }, style: { stroke: '#000', lineWidth: 2 } }
    ]
  };
}

function scatter(name, pts, idx, size, z) {
  return {
    type: 'scatter', name, xAxisIndex: idx, yAxisIndex: idx,
    data: parsePts(pts), symbol: 'circle', symbolSize: size,
    itemStyle: { color: COLORS[name], opacity: 1 },
    z, silent: true, progressive: 0, clip: true,
    emphasis: { disabled: true }
  };
}

function tickSeries(idx) {
  const xData = xMinorTicks.map(v => [v, Y_MIN, 0]).concat(xMajorTicks.map(v => [v, Y_MIN, 1]));
  const yData = yMinorTicks.map(v => [X_MIN, v, 0]).concat(yMajorTicks.map(v => [X_MIN, v, 1]));
  return [
    { type: 'custom', xAxisIndex: idx, yAxisIndex: idx, data: xData, encode: { x: 0, y: 1 }, renderItem: renderXTick, z: 20, silent: true, clip: false },
    { type: 'custom', xAxisIndex: idx, yAxisIndex: idx, data: yData, encode: { x: 0, y: 1 }, renderItem: renderYTick, z: 20, silent: true, clip: false }
  ];
}

function legends(dx) {
  const base = {
    orient: 'vertical', itemWidth: 18, itemHeight: 18, icon: 'circle', padding: 0,
    selectedMode: false, formatter: n => LEGEND_TEXT[n],
    textStyle: { fontFamily: F, fontSize: 26, color: '#000' }
  };
  return [
    Object.assign({}, base, { data: ['coann', 'zh', 'tt'], left: 232 + dx, top: 75, itemGap: 8,
      textStyle: Object.assign({}, base.textStyle, { rich: legendRich(36) }) }),
    Object.assign({}, base, { data: ['bb', 'vv', 'zfun'], left: 619 + dx, top: 75, itemGap: 8,
      textStyle: Object.assign({}, base.textStyle, { rich: legendRich(36) }) }),
    Object.assign({}, base, { data: ['ahfun', 'other'], left: 959 + dx, top: 79, itemGap: 4,
      textStyle: Object.assign({}, base.textStyle, { rich: legendRich(28) }) })
  ];
}

function panelText(dx, caption) {
  const titleRich = {
    t: { fontSize: 32, fontFamily: F, lineHeight: 48, color: '#000' },
    x: { fontSize: 30, fontFamily: FG, lineHeight: 48, color: '#000' },
    b: { fontSize: 22, fontFamily: F, lineHeight: 22, verticalAlign: 'bottom', width: 0, color: '#000' },
    p: { fontSize: 22, fontFamily: F, lineHeight: 22, verticalAlign: 'top', color: '#000' }
  };
  const txt = (x, y, text, extra) => ({ type: 'text', x, y, silent: true,
    style: Object.assign({ text, fill: '#000', font: `30px ${F}`, align: 'left', verticalAlign: 'middle' }, extra) });
  return [
    { type: 'text', x: 70 + dx, y: 210, rotation: Math.PI / 2, silent: true,
      style: { text: '{t|Ωh}{p|2}', rich: { t: { fontSize: 32, fontFamily: F, lineHeight: 44, color: '#000' },
        p: { fontSize: 22, fontFamily: F, lineHeight: 22, verticalAlign: 'top', color: '#000' } },
        align: 'right', verticalAlign: 'middle' } },
    { type: 'text', x: 1163 + dx, y: 1140, silent: true,
      style: { text: `{t|m(}{x|${CHI}}{b|1}{p|0}{t|) [GeV]}`, rich: titleRich, align: 'right', verticalAlign: 'middle' } },
    txt(262 + dx, 908, 'ATLAS', { font: `italic bold 38px ${F}` }),
    txt(262 + dx, 942, 'BinoDM scan'),
    txt(262 + dx, 971, '{r|√s=13 TeV, 140 fb}{s|-1}', { rich: {
      r: { fontSize: 30, fontFamily: F, lineHeight: 36, color: '#000' },
      s: { fontSize: 20, fontFamily: F, lineHeight: 26, verticalAlign: 'top', color: '#000' } } }),
    txt(262 + dx, 1001, caption)
  ];
}

function axisPair(idx) {
  return {
    x: { type: 'log', logBase: 10, gridIndex: idx, min: X_MIN, max: X_MAX,
      axisLine: { show: false }, axisTick: { show: false }, splitLine: { show: false },
      axisLabel: { margin: 5, formatter: decadeLabel, rich: tickRich, showMinLabel: true, showMaxLabel: true } },
    y: { type: 'log', logBase: 10, gridIndex: idx, min: Y_MIN, max: Y_MAX,
      axisLine: { show: false }, axisTick: { show: false }, splitLine: { show: false },
      axisLabel: { margin: 15, formatter: decadeLabel, rich: tickRich, showMinLabel: true, showMaxLabel: true } }
  };
}

const a0 = axisPair(0), a1 = axisPair(1);
const DX = 1162;

const chart = echarts.init(document.getElementById('chart'), null, { renderer: 'canvas' });
chart.setOption({
  animation: false,
  backgroundColor: '#fff',
  grid: [
    { left: 187, top: 208, width: 976, height: 842, show: true, borderColor: '#000', borderWidth: 2, backgroundColor: 'transparent', containLabel: false, outerBoundsMode: 'none' },
    { left: 187 + DX, top: 208, width: 976, height: 842, show: true, borderColor: '#000', borderWidth: 2, backgroundColor: 'transparent', containLabel: false, outerBoundsMode: 'none' }
  ],
  xAxis: [a0.x, a1.x],
  yAxis: [a0.y, a1.y],
  legend: legends(0).concat(legends(DX)),
  graphic: panelText(0, 'All considered models').concat(panelText(DX, 'After ATLAS Run 2 and external constraints')),
  series: [
    scatter('vv', leftVV, 0, 9, 2),
    scatter('tt', leftTT, 0, 10.5, 3),
    scatter('zfun', leftFunnelZh, 0, 9, 4),
    scatter('coann', leftCoann, 0, 7.5, 5),
    scatter('zh', leftZh, 0, 7.5, 6),
    scatter('bb', leftBB, 0, 7.5, 7),
    scatter('ahfun', leftAH, 0, 7, 8),
    scatter('other', leftOther, 0, 7.5, 9),
    scatter('vv', rightVV, 1, 7, 2),
    scatter('zfun', rightFunnelZh, 1, 7, 4),
    scatter('coann', rightCoann, 1, 7, 5),
    scatter('bb', rightBB, 1, 7, 7),
    scatter('ahfun', rightAH, 1, 7, 8)
  ].concat(tickSeries(0), tickSeries(1))
});
</script>
</body>
</html>
